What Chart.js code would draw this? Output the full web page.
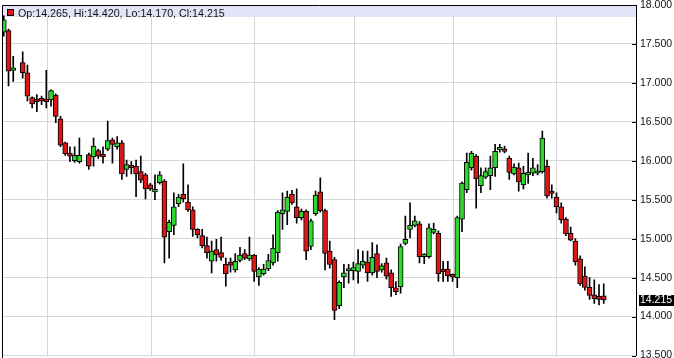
<!DOCTYPE html>
<html>
<head>
<meta charset="utf-8">
<script src="https://cdn.jsdelivr.net/npm/chart.js@4/dist/chart.umd.min.js"></script>
<style>
  html, body { margin: 0; padding: 0; background: #fff; }
  canvas { display: block; }
</style>
</head>
<body>
<canvas id="chart" width="674" height="358"></canvas>
<script>
// daily OHLC, one slot per trading day (null = no candle drawn)
const opens = [
  17.65, 17.67, 17.16, null, 17.26, 17.13, 16.81, 16.79, 16.79, 16.79,
  16.78, 16.84, 16.54, 16.23, 16.10, 16.00, 15.99, null, 16.08, 16.05,
  16.13, 16.08, 16.15, 16.27, 16.18, 16.23, 15.89, 15.94, 15.93, 15.86,
  15.82, 15.69, 15.60, 15.72, 15.74, 15.09, 15.17, 15.45, 15.57, 15.47,
  15.37, 15.12, 15.04, 14.91, 14.71, 14.86, 14.82, 14.67, 14.70, 14.60,
  14.72, 14.81, 14.74, 14.79, 14.51, 14.55, 14.61, 14.69, 14.82, 15.32,
  15.35, 15.57, 15.41, 15.27, 15.35, 14.90, 15.32, 15.60, 15.36, 14.84,
  14.73, 14.14, 14.51, 14.585, 14.59, 14.58, 14.66, 14.70, 14.56, 14.81,
  14.60, 14.69, 14.56, 14.37, 14.38, 14.94, 15.12, 15.17, 15.19, 14.77,
  14.77, 15.08, 15.07, 14.585, 14.61, 14.52, 14.50, 15.25, 15.63, 15.91,
  16.06, 15.68, 15.79, 15.81, 15.91, 16.14, 16.14, 16.03, 15.83, 15.91,
  15.69, 15.82, 15.84, 15.84, 15.86, 15.93, 15.60, 15.535, 15.41, 15.25,
  15.07, 14.97, 14.74, 14.52, 14.375, 14.28, 14.26, 14.265
];
const highs = [
  17.86, 17.69, 17.34, null, 17.40, 17.23, 16.82, 16.85, 16.83, 17.16,
  16.91, 16.86, 16.57, 16.24, 16.18, 16.18, 16.29, null, 16.10, 16.29,
  16.15, 16.18, 16.51, 16.29, 16.31, 16.26, 16.01, 15.99, 16.01, 16.06,
  15.84, 15.71, 15.82, 15.86, 15.76, 15.24, 15.59, 15.57, 15.96, 15.69,
  15.41, 15.13, 15.12, 15.02, 14.97, 14.99, 15.02, 14.75, 14.75, 14.81,
  14.89, 14.86, 15.02, 14.80, 14.63, 14.67, 14.80, 15.05, 15.36, 15.59,
  15.61, 15.62, 15.64, 15.38, 15.37, 15.25, 15.61, 15.78, 15.38, 14.97,
  14.76, 14.46, 14.67, 14.67, 14.70, 14.86, 14.84, 14.84, 14.95, 14.92,
  14.68, 14.75, 14.60, 14.45, 14.93, 15.29, 15.46, 15.29, 15.22, 14.81,
  15.19, 15.20, 15.10, 14.71, 14.71, 14.55, 15.29, 15.73, 16.10, 16.12,
  16.08, 15.91, 15.91, 16.06, 16.21, 16.21, 16.19, 16.06, 15.96, 15.97,
  15.93, 16.10, 16.03, 15.95, 16.38, 16.01, 15.69, 15.59, 15.46, 15.27,
  15.15, 15.00, 14.78, 14.64, 14.50, 14.47, 14.41, 14.42
];
const lows = [
  17.60, 16.96, 17.02, null, 17.06, 16.77, 16.68, 16.63, 16.72, 16.68,
  16.70, 16.49, 16.18, 16.07, 15.99, 15.98, 15.97, null, 15.89, 15.93,
  16.03, 15.97, 16.13, 15.97, 16.15, 15.76, 15.80, 15.83, 15.54, 15.72,
  15.51, 15.62, 15.50, 15.70, 14.69, 14.75, 15.05, 15.41, 15.47, 15.35,
  15.03, 15.01, 14.88, 14.75, 14.56, 14.71, 14.72, 14.39, 14.57, 14.57,
  14.70, 14.73, 14.72, 14.45, 14.40, 14.53, 14.59, 14.66, 14.71, 15.12,
  15.18, 15.44, 15.20, 15.24, 14.73, 14.86, 15.30, 15.34, 14.60, 14.62,
  13.96, 14.10, 14.37, 14.43, 14.47, 14.43, 14.62, 14.45, 14.53, 14.50,
  14.57, 14.48, 14.26, 14.28, 14.30, 14.92, 15.01, 15.15, 14.69, 14.68,
  14.75, 15.06, 14.45, 14.45, 14.45, 14.45, 14.37, 15.09, 15.59, 15.88,
  15.39, 15.59, 15.77, 15.63, 15.80, 16.11, 16.10, 15.76, 15.82, 15.61,
  15.64, 15.71, 15.81, 15.82, 15.84, 15.52, 15.52, 15.33, 15.20, 15.04,
  14.97, 14.66, 14.40, 14.34, 14.22, 14.17, 14.15, 14.17
];
const closes = [
  17.81, 17.15, 17.19, null, 17.13, 16.83, 16.73, 16.76, 16.77, 16.76,
  16.90, 16.57, 16.20, 16.09, 16.06, 16.07, 16.07, null, 15.93, 16.19,
  16.06, 16.05, 16.26, 16.21, 16.23, 15.83, 15.95, 15.91, 15.83, 15.75,
  15.64, 15.64, 15.63, 15.82, 15.02, 15.21, 15.41, 15.535, 15.51, 15.37,
  15.12, 15.05, 14.91, 14.82, 14.84, 14.79, 14.76, 14.55, 14.66, 14.71,
  14.79, 14.75, 14.79, 14.58, 14.61, 14.61, 14.72, 14.88, 15.34, 15.37,
  15.535, 15.46, 15.27, 15.35, 14.84, 15.23, 15.56, 15.36, 14.81, 14.67,
  14.08, 14.44, 14.56, 14.60, 14.63, 14.68, 14.71, 14.56, 14.76, 14.58,
  14.65, 14.52, 14.37, 14.32, 14.90, 14.99, 15.17, 15.23, 14.77, 14.79,
  15.14, 15.12, 14.55, 14.575, 14.525, 14.51, 15.27, 15.715, 15.98, 16.10,
  15.77, 15.81, 15.86, 15.91, 16.12, 16.16, 16.12, 15.85, 15.92, 15.73,
  15.84, 15.84, 15.91, 15.86, 16.29, 15.55, 15.58, 15.41, 15.24, 15.06,
  14.98, 14.70, 14.42, 14.375, 14.27, 14.23, 14.22, 14.215
];
// month separators, in day-slot units
const monthLines = [9.3, 31.3, 53.15, 74.2, 95.15, 117.05];

const UP = '#2ed62e';
const DOWN = '#dc1515';
const GRID = '#d6d6d6';
const FONT = '"Liberation Sans", Arial, sans-serif';

const days = [];
opens.forEach((o, i) => { if (o !== null) days.push(i); });
const last = days[days.length - 1];

const bodies = days.map(i => ({ x: i, y: [opens[i], closes[i]] }));
const wicks = days.map(i => ({ x: i, y: [lows[i], highs[i]] }));
const bodyColors = days.map(i => closes[i] >= opens[i] ? UP : DOWN);

const decor = {
  id: 'decor',
  beforeDatasetsDraw(chart) {
    const { ctx, chartArea: a } = chart;
    ctx.save();
    ctx.fillStyle = '#e4e4f8';
    ctx.fillRect(a.left, a.top, a.right - a.left, 12);
    ctx.fillStyle = closes[last] >= opens[last] ? UP : DOWN;
    ctx.fillRect(7.5, 9.5, 6, 6);
    ctx.strokeStyle = '#000';
    ctx.lineWidth = 1;
    ctx.strokeRect(7.5, 9.5, 6, 6);
    ctx.font = '10.7px ' + FONT;
    ctx.fillStyle = '#111';
    ctx.textBaseline = 'alphabetic';
    const f = v => v.toFixed(3);
    ctx.fillText('Op:' + f(opens[last]) + ', Hi:' + f(highs[last]) +
      ', Lo:' + f(lows[last]) + ', Cl:' + f(closes[last]), 18, 16.5);
    ctx.restore();
  },
  afterDraw(chart) {
    const { ctx, chartArea: a } = chart;
    const y = chart.scales.y;
    ctx.save();
    ctx.strokeStyle = '#000';
    ctx.lineWidth = 1;
    ctx.beginPath();
    ctx.moveTo(a.left + 0.5, 358);
    ctx.lineTo(a.left + 0.5, a.top + 0.5);
    ctx.lineTo(a.right, a.top + 0.5);
    y.ticks.forEach(t => {
      const py = Math.round(y.getPixelForValue(t.value)) + 0.5;
      ctx.moveTo(a.right - 4, py);
      ctx.lineTo(a.right, py);
    });
    ctx.stroke();

    // last price marker
    const py = y.getPixelForValue(closes[last]);
    ctx.fillStyle = '#000';
    ctx.fillRect(a.right + 3, Math.round(py) - 5, 35, 11);
    ctx.fillStyle = '#fff';
    ctx.font = '10.5px ' + FONT;
    ctx.textBaseline = 'middle';
    ctx.fillText(closes[last].toFixed(3), a.right + 4, Math.round(py) + 0.5);
    ctx.restore();
  }
};

new Chart(document.getElementById('chart'), {
  type: 'bar',
  data: {
    datasets: [
      {
        label: 'body',
        data: bodies,
        backgroundColor: bodyColors,
        borderColor: '#000',
        borderWidth: 1,
        borderSkipped: false,
        barThickness: 5,
        minBarLength: 2.5,
        grouped: false,
        order: 0
      },
      {
        label: 'wick',
        data: wicks,
        backgroundColor: '#000',
        borderWidth: 0,
        barThickness: 1,
        grouped: false,
        order: 1
      }
    ]
  },
  options: {
    responsive: false,
    animation: false,
    devicePixelRatio: 1,
    layout: { padding: { left: 2, top: 5, right: 0, bottom: 2.5 } },
    plugins: {
      legend: { display: false },
      tooltip: { enabled: false }
    },
    scales: {
      x: {
        type: 'linear',
        min: -0.38,
        max: 133.83,
        offset: false,
        afterBuildTicks: s => { s.ticks = monthLines.map(v => ({ value: v })); },
        afterFit: s => { s.height = 0; s.paddingLeft = 0; s.paddingRight = 0; },
        ticks: { display: false },
        grid: { color: GRID, drawTicks: false, offset: false },
        border: { display: false }
      },
      y: {
        position: 'right',
        min: 13.5,
        max: 18,
        afterFit: s => { s.width = 38; s.paddingTop = 0; s.paddingBottom = 0; },
        ticks: {
          stepSize: 0.5,
          padding: 4,
          color: '#111',
          font: { family: FONT, size: 10.5 },
          callback: v => v.toFixed(3)
        },
        grid: { color: GRID, drawTicks: false },
        border: { display: true, color: '#000' }
      }
    }
  },
  plugins: [decor]
});
</script>
</body>
</html>
